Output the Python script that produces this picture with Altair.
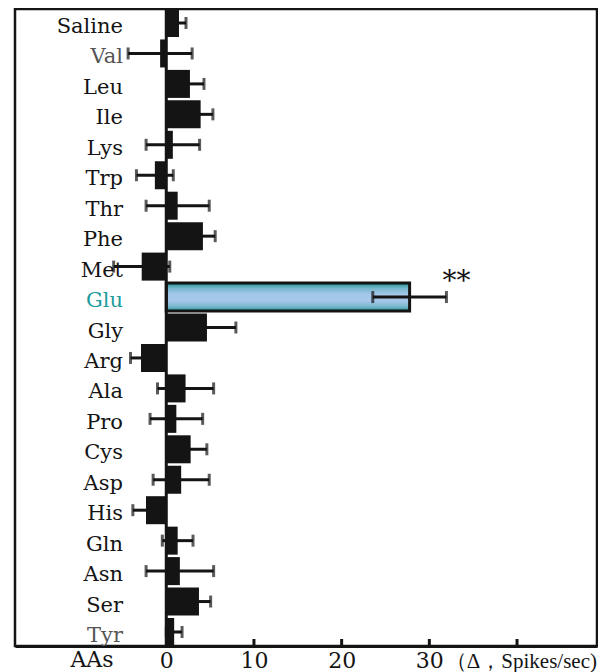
import altair as alt
import pandas as pd

names = ["Saline", "Val", "Leu", "Ile", "Lys", "Trp", "Thr", "Phe", "Met", "Glu", "Gly",
         "Arg", "Ala", "Pro", "Cys", "Asp", "His", "Gln", "Asn", "Ser", "Tyr"]
means = [1.45, -0.7, 2.7, 3.92, 0.75, -1.3, 1.3, 4.18, -2.8, 27.75, 4.64,
         -2.88, 2.2, 1.15, 2.78, 1.7, -2.31, 1.3, 1.55, 3.73, 0.9]
sems = [0.8, 3.65, 1.6, 1.4, 3.05, 2.1, 3.6, 1.4, 3.2, 4.2, 3.3,
        1.2, 3.2, 3.0, 1.85, 3.2, 1.5, 1.75, 3.85, 1.33, 0.9]
tick_values = [0, 10, 20, 30, 40]
inner_ticks = [10, 20, 30, 40]
highlight = "Glu"
stars = "**"
x_unit = "（Δ，Spikes/sec)"
y_title = "AAs"

df = pd.DataFrame({"name": names, "mean": means, "sem": sems})
df["lo"] = df["mean"] - df["sem"]
df["hi"] = df["mean"] + df["sem"]

FONT = "DejaVu Serif"
INK = "#141414"
W, H = 582, 637

xscale = alt.Scale(domain=[-17.25, 49.12], nice=False, zero=False)
yscale = alt.Scale(domain=names, paddingInner=0.08, paddingOuter=0.0)

base = alt.Chart(df)

X = alt.X("mean:Q", scale=xscale,
          axis=alt.Axis(values=tick_values, labelExpr="datum.value == 40 ? '' : datum.label",
                        ticks=False, grid=False, title=None, domainWidth=3, domainColor=INK,
                        labelFont=FONT, labelFontSize=22, labelColor=INK, labelPadding=4,
                        labelBaseline="top"))
Y = alt.Y("name:N", scale=yscale, axis=None, sort=None)

bars = base.transform_filter(alt.datum.name != highlight).mark_bar(color=INK).encode(x=X, y=Y)

glu = base.transform_filter(alt.datum.name == highlight).mark_bar(
    fill=alt.Gradient(gradient="linear", x1=0, y1=0, x2=0, y2=1,
                      stops=[alt.GradientStop(offset=0, color="#1f8f8f"),
                             alt.GradientStop(offset=0.18, color="#74b6cc"),
                             alt.GradientStop(offset=0.4, color="#a5c7e9"),
                             alt.GradientStop(offset=0.65, color="#a5c7e9"),
                             alt.GradientStop(offset=0.85, color="#74b6cc"),
                             alt.GradientStop(offset=1, color="#1f8f8f")]),
    stroke=INK, strokeWidth=3).encode(x=X, y=Y)

err = base.mark_rule(color=INK, strokeWidth=3).encode(
    x=alt.X("lo:Q", scale=xscale), x2="hi:Q", y=Y)
cap_lo = base.mark_tick(color=INK, thickness=3, size=12).encode(
    x=alt.X("lo:Q", scale=xscale), y=Y)
cap_hi = base.mark_tick(color=INK, thickness=3, size=12).encode(
    x=alt.X("hi:Q", scale=xscale), y=Y)

zero = alt.Chart(pd.DataFrame({"z": [0]})).mark_rule(color=INK, strokeWidth=3).encode(
    x=alt.X("z:Q", scale=xscale))

ticks = alt.Chart(pd.DataFrame({"t": inner_ticks})).mark_rule(color=INK, strokeWidth=3).encode(
    x=alt.X("t:Q", scale=xscale), y=alt.value(H), y2=alt.value(H - 7))

label_colors = {n: INK for n in names}
label_colors["Val"] = "#555555"
label_colors["Tyr"] = "#555555"
label_colors["Glu"] = "#1c9c9c"

labels = base.mark_text(align="right", baseline="middle", font=FONT, fontSize=21, dy=4).encode(
    x=alt.value(108), y=Y, text="name:N",
    color=alt.Color("name:N", scale=alt.Scale(domain=names, range=[label_colors[n] for n in names]),
                    legend=None))

star = base.transform_filter(alt.datum.name == highlight).mark_text(
    align="center", baseline="middle", font=FONT, fontSize=28, dx=10, dy=-15, color=INK).encode(
    x=alt.X("hi:Q", scale=xscale), y=Y, text=alt.value(stars))

aas = alt.Chart(pd.DataFrame({"t": [y_title]})).mark_text(
    align="center", baseline="top", font=FONT, fontSize=22, color=INK).encode(
    x=alt.value(77), y=alt.value(H + 4), text="t:N")

unit = alt.Chart(pd.DataFrame({"t": [x_unit]})).mark_text(
    align="right", baseline="top", font="Liberation Serif", fontSize=21, color=INK, dy=1).encode(
    x=alt.value(W), y=alt.value(H + 4), text="t:N")

chart = alt.layer(bars, glu, zero, err, cap_lo, cap_hi, ticks, labels, star, aas, unit).properties(
    width=W, height=H,
    padding={"left": 7, "top": 1, "right": 1, "bottom": 32},
    autosize="none",
).configure_view(stroke=INK, strokeWidth=2.5)

chart.save("out.html", embed_options={"renderer": "svg", "actions": False})
